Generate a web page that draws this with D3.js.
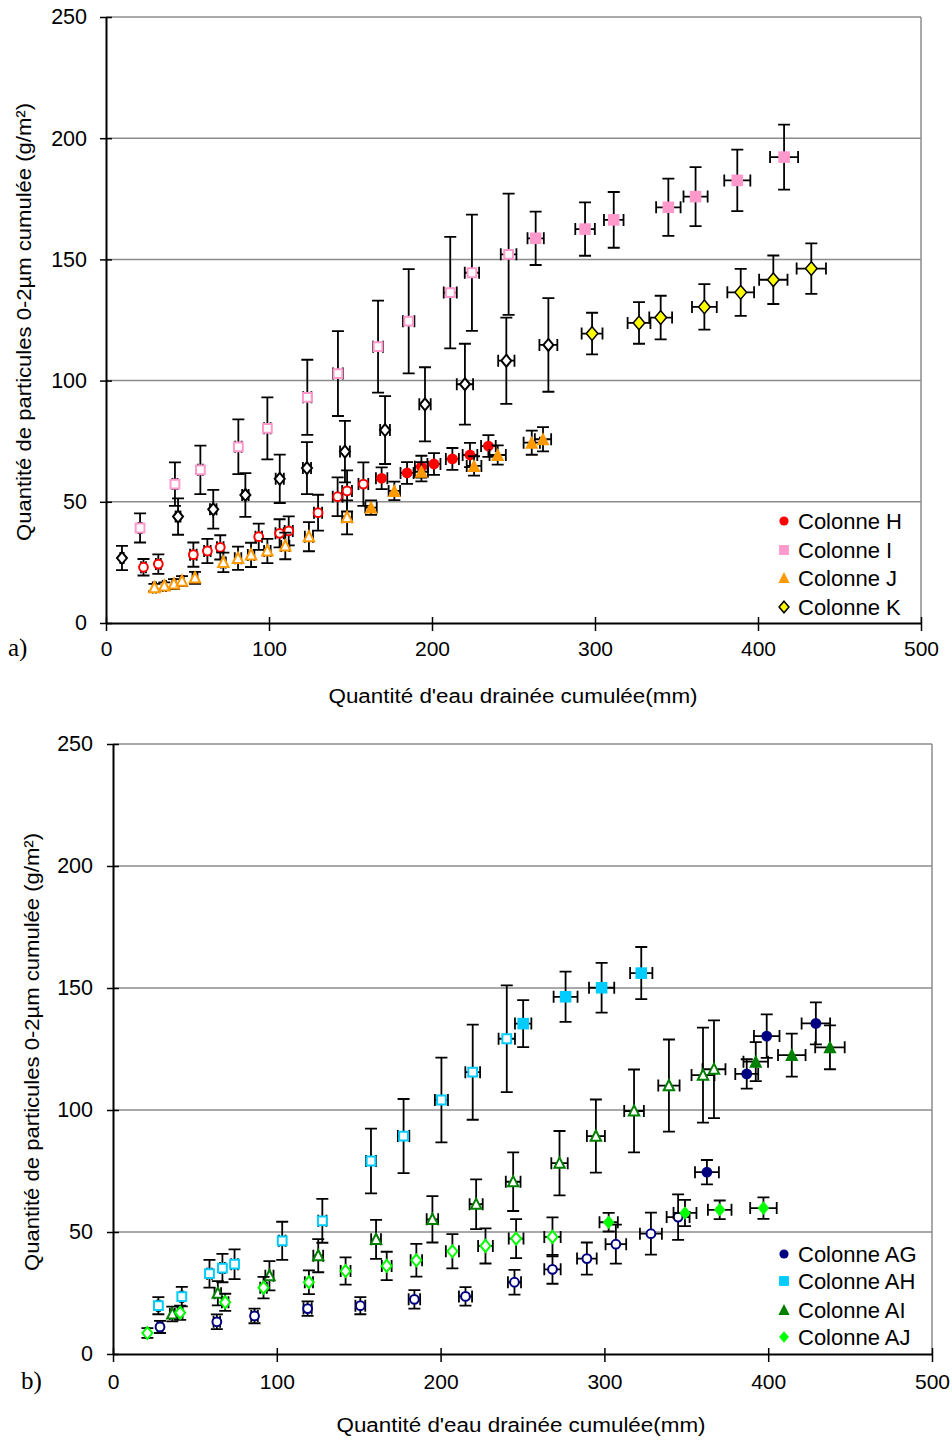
<!DOCTYPE html>
<html><head><meta charset="utf-8">
<script src="https://cdn.jsdelivr.net/npm/d3@7"></script>
<style>body{margin:0;background:#fff}</style>
</head><body>
<svg id="c" width="952" height="1441"></svg>
<script>
// ---------- shared labels ----------
const xTicks = [0, 100, 200, 300, 400, 500];
const yTicks = [0, 50, 100, 150, 200, 250];
const xTitle = "Quantité d'eau drainée cumulée(mm)";
const yTitle = "Quantité de particules 0-2µm cumulée (g/m²)";
const panelLabels = ["a)", "b)"];
const namesA = ["Colonne H", "Colonne I", "Colonne J", "Colonne K"];
const namesB = ["Colonne AG", "Colonne AH", "Colonne AI", "Colonne AJ"];

// ---------- panel a ----------
const H_x  = [23.0, 32.1, 53.6, 62.2, 70.1, 93.7, 106.5, 112.1, 130.1, 142.1, 147.9, 157.9, 169.1, 184.7, 193.5, 201.2, 212.5, 223.3, 234.6];
const H_y  = [23.0, 24.3, 28.2, 29.7, 31.2, 35.6, 37.0, 38.0, 45.5, 52.1, 54.5, 57.3, 59.7, 61.9, 64.5, 65.6, 67.7, 69.3, 73.0];
const H_ey = [3.4, 4, 5, 5, 5, 5.4, 5.8, 6, 7.4, 8, 8.5, 9, 4.5, 4.5, 4.5, 4.5, 4.5, 5, 4.5];
const H_ex = [1.5, 1.5, 2, 2, 2, 2, 2.5, 2.5, 2.5, 3, 3, 3, 3.5, 4, 4, 4, 4, 4.5, 4.5];
const H_full = [0,0,0,0,0,0,0,0,0,0,0,0,1,1,1,1,1,1,1];

const I_x  = [20.9, 42.3, 57.9, 81.2, 99.0, 123.5, 142.3, 166.9, 185.7, 211.2, 224.5, 247.0, 263.6, 293.9, 311.5, 345.0, 361.7, 387.3, 416.0];
const I_y  = [39.2, 57.3, 63.2, 72.7, 80.3, 93.1, 102.9, 114.0, 124.5, 136.3, 144.5, 152.1, 158.7, 162.5, 166.3, 171.5, 175.9, 182.6, 192.2];
const I_ey = [6, 9, 10, 11.3, 12.8, 15.5, 17.5, 19, 21.5, 23, 24, 25, 11, 11, 11.5, 11.8, 12.2, 12.7, 13.4];
const I_ex = [1, 1.5, 1.5, 2, 2, 2.5, 3, 3, 3.5, 4, 4.4, 4.8, 5, 6, 6, 7.5, 7.4, 8, 8.6];
const I_full = [0,0,0,0,0,0,0,0,0,0,0,0,1,1,1,1,1,1,1];

const J_x  = [29.7, 35.8, 41.7, 46.6, 54.6, 72.0, 81.0, 89.0, 99.0, 110.0, 124.5, 147.9, 162.6, 176.9, 193.5, 225.8, 240.3, 261.2, 268.1];
const J_y  = [14.6, 15.3, 16.1, 17.3, 18.6, 25.0, 26.7, 28.1, 29.7, 31.8, 35.6, 43.6, 47.6, 54.5, 62.4, 64.8, 69.3, 74.4, 75.8];
const J_ey = [1.5, 1.5, 2, 2, 2.5, 4, 4.8, 5, 5, 5.5, 6, 7, 3, 3.8, 4, 4, 4, 5, 5];
const J_ex = [1, 1, 1, 1, 1.5, 1.5, 2, 2, 2, 2.5, 2.5, 3, 3.5, 3.5, 4, 4.5, 5, 5, 5];
const J_full = [0,0,0,0,0,0,0,0,0,0,0,0,1,1,1,1,1,1,1];

const K_x  = [9.8, 44.2, 65.8, 85.5, 106.6, 123.3, 146.6, 171.2, 195.7, 220.2, 245.6, 271.4, 298.2, 327.0, 340.3, 367.1, 389.4, 409.4, 432.7];
const K_y  = [26.8, 43.9, 46.9, 52.8, 59.5, 63.9, 70.7, 79.6, 90.2, 98.5, 108.2, 114.7, 119.4, 123.8, 126.0, 130.4, 136.4, 141.6, 146.2];
const K_ey = [5, 7.5, 8, 9, 10, 10.7, 12.7, 14, 15.3, 16.7, 17.8, 19.3, 8.6, 8.6, 9, 9.4, 9.7, 10, 10.4];
const K_ex = [1, 1.5, 2, 2, 2.5, 2.5, 3, 3, 3.5, 5, 5, 5.5, 6.4, 7, 7, 7.6, 8.2, 8.7, 9];
const K_full = [0,0,0,0,0,0,0,0,0,0,0,0,1,1,1,1,1,1,1];

// ---------- panel b ----------
const AG_x  = [28.7, 63.4, 86.4, 118.8, 151.0, 184.0, 215.2, 245.1, 268.3, 289.3, 307.0, 328.4, 345.0, 362.6, 386.9, 399.1, 429.1];
const AG_y  = [11.1, 13.2, 15.6, 18.6, 19.8, 22.4, 23.6, 29.4, 34.7, 39.1, 45.0, 49.3, 56.1, 74.5, 114.8, 130.3, 135.5];
const AG_ey = [2.5, 3, 3, 3, 3.5, 3.8, 3.8, 5.1, 5.9, 6.6, 8, 8.6, 9.3, 5, 6, 8.9, 8.6];
const AG_ex = [1.5, 2, 2, 2.5, 3, 3.5, 4, 4, 5, 6, 6.3, 6.7, 7, 7.3, 7, 7.8, 8.7];
const AG_full = [0,0,0,0,0,0,0,0,0,0,0,0,0,1,1,1,1];

const AH_x  = [27.7, 42.0, 58.9, 66.8, 74.2, 103.3, 127.8, 157.5, 177.4, 200.5, 219.6, 240.4, 250.4, 276.3, 298.3, 322.5];
const AH_y  = [19.8, 23.5, 32.9, 35.2, 36.8, 46.4, 54.6, 79.1, 89.3, 104.1, 115.5, 129.2, 135.4, 146.4, 150.1, 156.1];
const AH_ey = [3.5, 4, 5.7, 5.8, 6.1, 7.8, 9, 13.3, 15.2, 17.4, 19.5, 21.9, 9.6, 10.3, 10.2, 10.7];
const AH_ex = [1, 1, 1.5, 1.5, 2, 2, 2.5, 3, 3.5, 4, 4.5, 5, 5, 7.3, 7.7, 6.8];
const AH_full = [0,0,0,0,0,0,0,0,0,0,0,0,1,1,1,1];

const AI_x  = [36.2, 64.0, 95.5, 125.3, 160.6, 195.0, 221.7, 244.3, 272.6, 294.8, 318.1, 339.4, 360.2, 366.9, 392.4, 414.4, 437.7];
const AI_y  = [16.4, 24.9, 32.1, 40.3, 47.0, 55.2, 61.4, 70.6, 78.2, 89.3, 99.6, 110.0, 114.3, 116.7, 119.8, 122.5, 125.7];
const AI_ey = [3, 5, 6, 6.8, 8, 9.5, 10.2, 12, 13.2, 15, 17, 18.9, 19.5, 20, 8, 8.8, 9];
const AI_ex = [1.5, 2, 2.5, 3, 3, 3.5, 4, 4.5, 5, 5.5, 6, 6.5, 7, 7, 7.5, 8.4, 9];
const AI_full = [0,0,0,0,0,0,0,0,0,0,0,0,0,0,1,1,1];

const AJ_x  = [21.0, 41.0, 68.5, 91.9, 119.6, 142.0, 167.1, 185.2, 207.2, 227.4, 246.1, 268.3, 302.6, 349.2, 370.4, 397.1];
const AJ_y  = [8.6, 16.9, 21.2, 27.2, 29.4, 34.0, 36.1, 38.4, 42.1, 44.3, 47.3, 48.0, 54.0, 57.8, 59.1, 59.8];
const AJ_ey = [2, 2.9, 3.5, 4.4, 4.9, 5.6, 5.8, 6.7, 7, 7.2, 8, 8, 3.8, 5.4, 3.8, 4.4];
const AJ_ex = [1, 1.5, 2, 2, 2.5, 3, 3, 3.5, 4, 4.5, 4.5, 5, 5.6, 7, 7.2, 8.1];
const AJ_full = [0,0,0,0,0,0,0,0,0,0,0,0,1,1,1,1];

// ---------- drawing ----------
const FONT = "'Liberation Sans', Arial, Helvetica, sans-serif";
const svg = d3.select("#c");

function shapePath(shape, full, legend) {
  const k = legend ? 0.85 : 1;
  if (shape === "circle") {
    const r = (full ? 5.4 : 4.4) * k;
    return `M${r},0A${r},${r} 0 1,1 ${-r},0A${r},${r} 0 1,1 ${r},0Z`;
  }
  if (shape === "square") {
    const r = (full ? 5.8 : 4.4) * k;
    return `M${-r},${-r}H${r}V${r}H${-r}Z`;
  }
  if (shape === "triangle") {
    const w = (full ? 6.6 : 5.2) * k, t = (full ? 7.0 : 5.6) * k, b = (full ? 6.0 : 4.6) * k;
    return `M0,${-t}L${w},${b}L${-w},${b}Z`;
  }
  // diamond
  const w = (full ? 5.8 : 5.0) * k, h = (full ? 6.8 : 6.0) * k;
  return `M0,${-h}L${w},0L0,${h}L${-w},0Z`;
}

function drawPanel(cfg) {
  const x = d3.scaleLinear().domain([0, 500]).range([cfg.left, cfg.right]);
  const y = d3.scaleLinear().domain([0, 250]).range([cfg.bottom, cfg.top]);
  const g = svg.append("g");

  // gridlines
  g.append("g").selectAll("line").data(yTicks.filter(v => v > 0)).join("line")
    .attr("x1", x(0)).attr("x2", x(500))
    .attr("y1", d => y(d)).attr("y2", d => y(d))
    .attr("stroke", "#8c8c8c").attr("stroke-width", 1.5);
  // right border
  g.append("line").attr("x1", x(500)).attr("x2", x(500)).attr("y1", y(0)).attr("y2", y(250))
    .attr("stroke", "#8c8c8c").attr("stroke-width", 1.5);

  // axes
  const ya = g.append("g").attr("transform", `translate(${x(0)},0)`)
    .call(d3.axisLeft(y).tickValues(yTicks).tickSizeInner(6).tickSizeOuter(0).tickPadding(cfg.yPad).tickFormat(d3.format("d")));
  ya.select(".domain").attr("stroke", "#000").attr("stroke-width", 2);
  ya.selectAll(".tick line").attr("x1", 6).attr("stroke", "#000").attr("stroke-width", 1.5);
  ya.selectAll(".tick text").attr("font-family", FONT).attr("font-size", 21.5).attr("fill", "#000");

  const xa = g.append("g").attr("transform", `translate(0,${y(0)})`)
    .call(d3.axisBottom(x).tickValues(xTicks).tickSizeInner(8).tickSizeOuter(0).tickPadding(cfg.xPad).tickFormat(d3.format("d")));
  xa.select(".domain").attr("stroke", "#000").attr("stroke-width", 2);
  xa.selectAll(".tick line").attr("y1", -6).attr("stroke", "#000").attr("stroke-width", 1.5);
  xa.selectAll(".tick text").attr("font-family", FONT).attr("font-size", 21).attr("fill", "#000");

  // titles
  g.append("text").attr("x", cfg.xTitleX).attr("y", cfg.xTitleY).attr("text-anchor", "middle")
    .attr("font-family", FONT).attr("font-size", 20).attr("textLength", 369).attr("lengthAdjust", "spacingAndGlyphs")
    .text(xTitle);
  g.append("text").attr("transform", `translate(${cfg.yTitleX},${cfg.yTitleY}) rotate(-90)`)
    .attr("text-anchor", "middle").attr("font-family", FONT).attr("font-size", 20)
    .attr("textLength", 438).attr("lengthAdjust", "spacingAndGlyphs")
    .text(yTitle);
  g.append("text").attr("x", cfg.labX).attr("y", cfg.labY)
    .attr("font-family", "'Liberation Serif', 'Times New Roman', serif").attr("font-size", 25)
    .text(cfg.label);

  // series
  cfg.series.forEach(s => {
    const pts = s.x.map((v, i) => ({ x: v, y: s.y[i], ex: s.ex[i], ey: s.ey[i], full: s.full[i] }));
    const eb = g.append("g").attr("stroke", "#000").attr("stroke-width", 1.8).attr("fill", "none");
    const cap = 6;
    pts.forEach(p => {
      const px = x(p.x), py = y(p.y);
      const yt = y(p.y + p.ey), yb = y(p.y - p.ey);
      const xl = x(p.x - p.ex), xr = x(p.x + p.ex);
      eb.append("path").attr("d",
        `M${px},${yt}V${yb}M${px - cap},${yt}H${px + cap}M${px - cap},${yb}H${px + cap}` +
        `M${xl},${py}H${xr}M${xl},${py - cap}V${py + cap}M${xr},${py - cap}V${py + cap}`);
    });
    g.append("g").selectAll("path").data(pts).join("path")
      .attr("transform", d => `translate(${x(d.x)},${y(d.y)})`)
      .attr("d", d => shapePath(s.shape, d.full, false))
      .attr("fill", d => d.full ? s.color : "#fff")
      .attr("stroke", d => d.full ? (s.edge || "none") : (s.edge || s.color))
      .attr("stroke-width", d => d.full ? 1.5 : 2);
  });

  // legend
  const lg = g.append("g");
  cfg.series.forEach((s, i) => {
    const ly = cfg.legY[i];
    lg.append("path").attr("transform", `translate(${cfg.legX},${ly})`)
      .attr("d", shapePath(s.shape, true, true))
      .attr("fill", s.color).attr("stroke", s.edge || "none").attr("stroke-width", 1.5);
    lg.append("text").attr("x", cfg.legX + 14).attr("y", ly + 7.5)
      .attr("font-family", FONT).attr("font-size", 22).text(s.name);
  });
}

drawPanel({
  left: 106, right: 921, top: 17, bottom: 623, yPad: 13, xPad: 10,
  xTitleX: 513, xTitleY: 703, yTitleX: 31, yTitleY: 322,
  label: panelLabels[0], labX: 8, labY: 656,
  legX: 784, legY: [521, 550, 578, 607],
  series: [
    { name: namesA[0], x: H_x, y: H_y, ex: H_ex, ey: H_ey, full: H_full, shape: "circle", color: "#ff0000" },
    { name: namesA[1], x: I_x, y: I_y, ex: I_ex, ey: I_ey, full: I_full, shape: "square", color: "#ff99cc" },
    { name: namesA[2], x: J_x, y: J_y, ex: J_ex, ey: J_ey, full: J_full, shape: "triangle", color: "#ff9900" },
    { name: namesA[3], x: K_x, y: K_y, ex: K_ex, ey: K_ey, full: K_full, shape: "diamond", color: "#ffff00", edge: "#000" }
  ]
});

drawPanel({
  left: 113, right: 932, top: 744, bottom: 1354, yPad: 14, xPad: 12,
  xTitleX: 521, xTitleY: 1432, yTitleX: 39, yTitleY: 1052,
  label: panelLabels[1], labX: 21, labY: 1389,
  legX: 784, legY: [1254, 1281, 1310, 1337],
  series: [
    { name: namesB[0], x: AG_x, y: AG_y, ex: AG_ex, ey: AG_ey, full: AG_full, shape: "circle", color: "#000080" },
    { name: namesB[1], x: AH_x, y: AH_y, ex: AH_ex, ey: AH_ey, full: AH_full, shape: "square", color: "#00ccff" },
    { name: namesB[2], x: AI_x, y: AI_y, ex: AI_ex, ey: AI_ey, full: AI_full, shape: "triangle", color: "#008000" },
    { name: namesB[3], x: AJ_x, y: AJ_y, ex: AJ_ex, ey: AJ_ey, full: AJ_full, shape: "diamond", color: "#00ff00" }
  ]
});
</script>
</body></html>
